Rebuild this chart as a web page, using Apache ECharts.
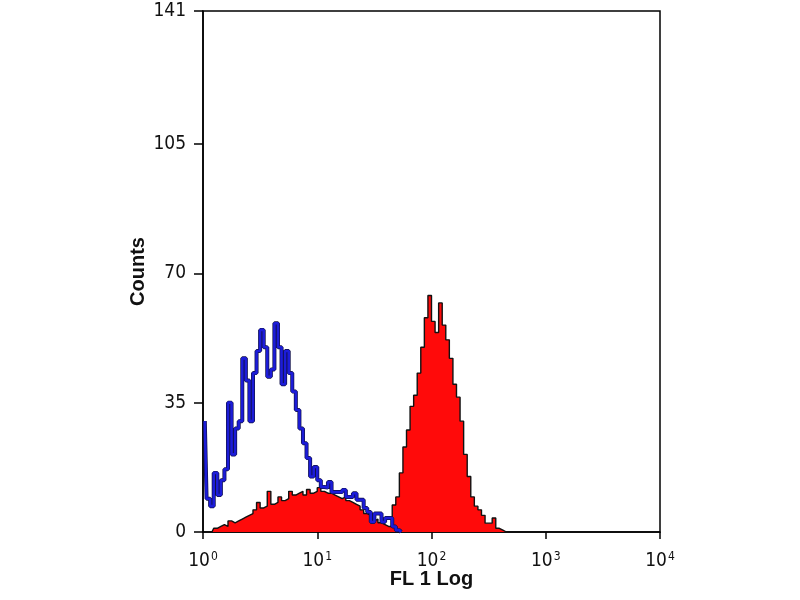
<!DOCTYPE html>
<html>
<head>
<meta charset="utf-8">
<script src="https://cdn.jsdelivr.net/npm/echarts@6/dist/echarts.min.js"></script>
<style>
  html, body { margin: 0; padding: 0; background: #fff; }
  #chart { width: 800px; height: 600px; }
</style>
</head>
<body>
<div id="chart"></div>
<script>
// channel counts, 32 channels per decade, starting at 10^0
const binsPerDecade = 32;
const decadeExponents = ['0', '1', '2', '3', '4'];
const countTicks = [0, 35, 70, 105, 141];

// isotype control (blue outline)
const controlCounts = [
  30, 9, 7, 16, 10, 14, 17, 35, 21, 28, 30, 47, 41, 30, 43, 49,
  54.7, 50, 42, 44, 56.5, 50, 40, 49, 43, 38, 33, 28, 24, 20, 15, 17.6,
  14, 12.2, 12, 13.5, 10.8, 10.8, 10.8, 11.4, 9.5, 9.5, 10.5, 8.7, 8.7, 6.5, 5.4, 2.7,
  5, 5, 2.7, 3.8, 3.8, 1.5, 0.5, 0
];

// stained sample (red filled)
const stainedCounts = [
  0, 0, 0, 1, 1.5, 2, 1.5, 3, 2.5, 3, 3.5, 4, 4.5, 5, 6, 8,
  6.5, 7, 11, 7.5, 8, 9.5, 8.5, 9, 11, 10, 10.5, 11, 10, 11.5, 10.5, 11,
  12, 11, 10.5, 10.5, 10, 9.5, 9, 9.5, 8.5, 8, 7.5, 7, 6, 5, 4.5, 3,
  3.5, 2.5, 2, 1.5, 1.5, 7.3, 9.5, 16, 23, 27.6, 34, 37, 43, 50, 58, 64,
  57, 54, 62, 56, 52, 47, 40, 36.5, 30, 21, 15, 9.5, 7, 6, 4.5, 2.4,
  2.4, 3.8, 1, 0.5, 0, 0
];

const toPoints = (arr) => arr.map((v, i) => [(i + 0.5) / binsPerDecade, v]);

const chart = echarts.init(document.getElementById('chart'));

const narrow = 'Liberation Sans Narrow, DejaVu Sans Condensed, Arial Narrow, sans-serif';
const nameFont = {
  color: '#111', fontFamily: 'Liberation Sans, Arial, sans-serif',
  fontSize: 20, fontWeight: 'bold'
};

const option = {
  backgroundColor: '#fff',
  animation: false,
  grid: {
    left: 203, right: 140, top: 11, bottom: 68,
    outerBoundsMode: 'none',
    show: true, borderColor: '#000', borderWidth: 1.5
  },
  xAxis: {
    type: 'value',
    min: 0, max: 4, interval: 1,
    name: 'FL 1 Log',
    nameLocation: 'middle',
    nameGap: 37,
    nameMoveOverlap: false,
    nameTextStyle: nameFont,
    axisLine: { lineStyle: { color: '#000', width: 1.5 } },
    axisTick: { length: 7, lineStyle: { color: '#000', width: 1.5 } },
    axisLabel: {
      margin: 19,
      formatter: (v) => '{b|10}{s|' + decadeExponents[Math.round(v)] + '}',
      rich: {
        b: { fontFamily: narrow, fontSize: 19, color: '#111' },
        s: { fontFamily: narrow, fontSize: 12, color: '#111', padding: [0, 0, 9, 1] }
      }
    },
    splitLine: { show: false }
  },
  yAxis: {
    type: 'value',
    min: 0, max: 141,
    name: 'Counts',
    nameLocation: 'middle',
    nameGap: 55,
    nameMoveOverlap: false,
    nameRotate: 90,
    nameTextStyle: nameFont,
    axisLine: { show: true, lineStyle: { color: '#000', width: 1.5 } },
    axisTick: { show: true, length: 9, customValues: countTicks, lineStyle: { color: '#000', width: 1.5 } },
    axisLabel: { color: '#111', fontFamily: narrow, fontSize: 19, margin: 17, customValues: countTicks },
    splitLine: { show: false }
  },
  series: [
    {
      name: 'Stained',
      type: 'line',
      step: 'middle',
      symbol: 'none',
      data: toPoints(stainedCounts),
      lineStyle: { color: '#111', width: 1.4 },
      areaStyle: { color: '#ff0a0a', opacity: 1 },
      z: 2
    },
    {
      name: 'Control edge',
      type: 'line',
      step: 'middle',
      symbol: 'none',
      data: toPoints(controlCounts),
      lineStyle: { color: '#10104a', width: 4 },
      z: 3
    },
    {
      name: 'Control',
      type: 'line',
      step: 'middle',
      symbol: 'none',
      data: toPoints(controlCounts),
      lineStyle: { color: '#1c1cd8', width: 2.6 },
      z: 4
    }
  ]
};

option && chart.setOption(option);
</script>
</body>
</html>
